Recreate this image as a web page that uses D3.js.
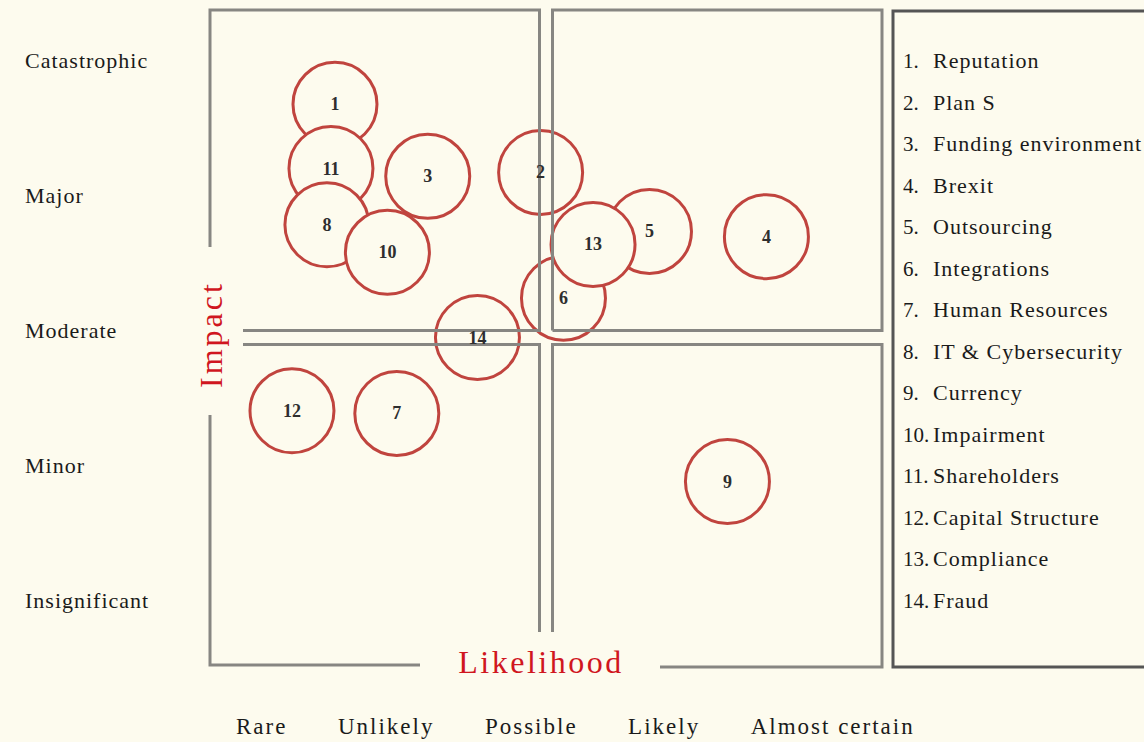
<!DOCTYPE html>
<html lang="en">
<head>
    <meta charset="UTF-8"/>
    <title>Risk matrix</title>
    <script src="https://d3js.org/d3.v7.min.js"></script>
    <style>
        body { margin: 0; background: #fdfbee; }
        svg { display: block; }
    </style>
</head>
<body>
    <div id="chart"></div>

    <script>
        // Risk register: id, likelihood position, impact position (0-5 scale)
        var riskIds        = [1, 11, 8, 3, 10, 2, 5, 6, 13, 4, 14, 12, 7, 9];
        var riskLikelihood = [0.93, 0.90, 0.87, 1.62, 1.32, 2.46, 3.27, 2.63, 2.85, 4.14, 1.99, 0.61, 1.39, 3.85];
        var riskImpact     = [4.28, 3.79, 3.36, 3.73, 3.15, 3.76, 3.31, 2.80, 3.21, 3.27, 2.50, 1.94, 1.92, 1.40];

        var riskNames = ["Reputation", "Plan S", "Funding environment", "Brexit", "Outsourcing",
            "Integrations", "Human Resources", "IT & Cybersecurity", "Currency", "Impairment",
            "Shareholders", "Capital Structure", "Compliance", "Fraud"];

        var impactLabels = ["Catastrophic", "Major", "Moderate", "Minor", "Insignificant"];
        var likelihoodLabels = ["Rare", "Unlikely", "Possible", "Likely", "Almost certain"];

        var width = 1144;
        var height = 742;
        var bg = "#fdfbee";
        var lineColor = "#878682";
        var red = "#c0443e";
        var serif = "'Liberation Serif', 'Times New Roman', serif";

        var risks = riskIds.map(function(id, i) {
            return { id: id, x: riskLikelihood[i], y: riskImpact[i] };
        });

        const svg = d3.select("#chart")
            .append("svg")
            .attr("width", width)
            .attr("height", height);

        svg.append("rect")
            .attr("width", width)
            .attr("height", height)
            .attr("fill", bg);

        var xScale = d3.scaleLinear().domain([0, 5]).range([210, 882]);
        var yScale = d3.scaleLinear().domain([0, 5]).range([665, 10]);

        // Circles (filled with background so later ones hide earlier arcs)
        var g = svg.append("g");
        g.selectAll("circle")
            .data(risks)
            .enter()
            .append("circle")
            .attr("cx", function(d) { return xScale(d.x); })
            .attr("cy", function(d) { return yScale(d.y); })
            .attr("r", 42)
            .attr("fill", bg)
            .attr("stroke", red)
            .attr("stroke-width", 3);

        // Quadrant frame lines, drawn over the circles
        var x0 = xScale(0), x1 = xScale(5), xm = xScale(2.5);
        var y0 = yScale(5), y1 = yScale(0), ym = yScale(2.5);
        var gapX = 6.5, gapY = 7;
        var frame = [
            // top left
            [[x0, 247], [x0, y0], [xm - gapX, y0], [xm - gapX, ym - gapY], [243, ym - gapY]],
            // top right
            [[xm + gapX, ym - gapY], [xm + gapX, y0], [x1, y0], [x1, ym - gapY], [xm + gapX, ym - gapY]],
            // bottom left
            [[243, ym + gapY], [xm - gapX, ym + gapY], [xm - gapX, 632]],
            [[x0, 415], [x0, y1], [420, y1]],
            // bottom right
            [[xm + gapX, 632], [xm + gapX, ym + gapY], [x1, ym + gapY], [x1, y1 + 2], [660, y1 + 2]]
        ];
        svg.append("g")
            .selectAll("path")
            .data(frame)
            .enter()
            .append("path")
            .attr("d", d3.line())
            .attr("fill", "none")
            .attr("stroke", lineColor)
            .attr("stroke-width", 3);

        // Circle numbers
        svg.append("g")
            .selectAll("text")
            .data(risks)
            .enter()
            .append("text")
            .attr("x", function(d) { return xScale(d.x); })
            .attr("y", function(d) { return yScale(d.y) + 6; })
            .attr("text-anchor", "middle")
            .attr("font-family", serif)
            .attr("font-weight", "bold")
            .attr("font-size", "18px")
            .attr("fill", "#2e2e2e")
            .text(function(d) { return d.id; });

        // Impact labels on the left
        var yLabel = d3.scalePoint().domain(impactLabels).range([61, 601]);
        svg.selectAll("text.ylab")
            .data(impactLabels)
            .enter()
            .append("text")
            .attr("class", "ylab")
            .attr("x", 25)
            .attr("y", function(d) { return yLabel(d) + 7; })
            .attr("font-family", serif)
            .attr("font-size", "22px")
            .attr("letter-spacing", "1px")
            .attr("fill", "#1a1a1a")
            .text(function(d) { return d; });

        // Likelihood labels along the bottom, set in a row
        var xlabs = svg.selectAll("text.xlab")
            .data(likelihoodLabels)
            .enter()
            .append("text")
            .attr("class", "xlab")
            .attr("y", 734)
            .attr("font-family", serif)
            .attr("font-size", "23px")
            .attr("letter-spacing", "2px")
            .attr("fill", "#1a1a1a")
            .text(function(d) { return d; });
        var cursor = 236;
        xlabs.each(function() {
            d3.select(this).attr("x", cursor);
            cursor += this.getComputedTextLength() + 50.5;
        });

        // Axis titles
        svg.append("text")
            .attr("text-anchor", "middle")
            .attr("transform", "translate(222," + (ym - 3) + ")rotate(-90)")
            .attr("font-family", serif)
            .attr("font-size", "32px")
            .attr("letter-spacing", "3px")
            .attr("fill", "#d0161e")
            .text("Impact");

        svg.append("text")
            .attr("text-anchor", "middle")
            .attr("x", 541)
            .attr("y", 673)
            .attr("font-family", serif)
            .attr("font-size", "32px")
            .attr("letter-spacing", "2.5px")
            .attr("fill", "#d0161e")
            .text("Likelihood");

        // Legend box
        svg.append("rect")
            .attr("x", 893)
            .attr("y", 11)
            .attr("width", 300)
            .attr("height", 656)
            .attr("fill", "none")
            .attr("stroke", "#555")
            .attr("stroke-width", 3);

        var legend = svg.selectAll("g.legend")
            .data(riskNames)
            .enter()
            .append("g")
            .attr("class", "legend")
            .attr("transform", function(d, i) { return "translate(0," + (68 + i * 41.5) + ")"; });
        legend.append("text")
            .attr("x", 903)
            .attr("font-family", serif)
            .attr("font-size", "21px")
            .attr("fill", "#1a1a1a")
            .text(function(d, i) { return (i + 1) + "."; });
        legend.append("text")
            .attr("x", 933)
            .attr("font-family", serif)
            .attr("font-size", "22px")
            .attr("letter-spacing", "1px")
            .attr("fill", "#1a1a1a")
            .text(function(d) { return d; });
    </script>
</body>
</html>
